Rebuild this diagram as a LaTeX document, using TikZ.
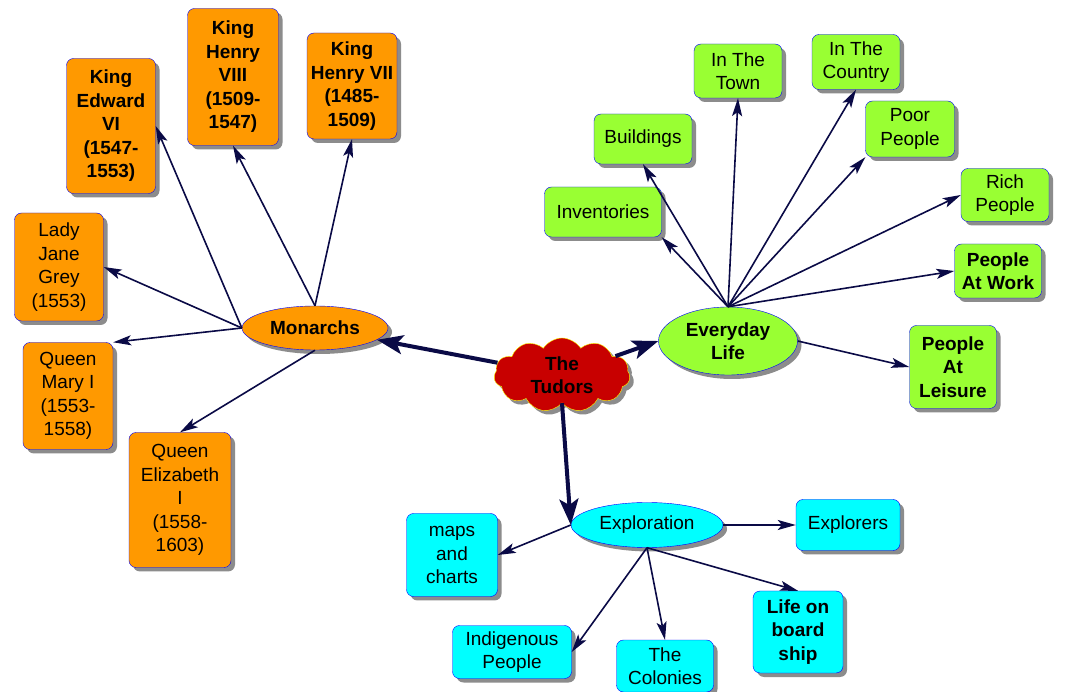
\documentclass[tikz,border=0pt]{standalone}
\usepackage{fontspec}
\setmainfont{Liberation Sans}
\usetikzlibrary{arrows.meta}
\usetikzlibrary{shapes.geometric}
\usetikzlibrary{shapes.symbols}
\usetikzlibrary{shadows}
\usetikzlibrary{positioning}
\definecolor{custom-orange}{RGB}{255, 153, 0}
\definecolor{custom-green}{RGB}{153, 255, 51}
\definecolor{custom-cyan}{RGB}{0, 255, 255}
\definecolor{custom-red}{RGB}{200, 0, 0}
\definecolor{custom-yellow}{RGB}{255, 255, 0}
\definecolor{custom-navy}{RGB}{10, 10, 70}
\definecolor{custom-border}{RGB}{0, 0, 255}
\definecolor{custom-shadow}{RGB}{140, 140, 140}

\tikzset{
  plain/.style={font=\fontsize{19}{23.5}\selectfont},
  strong/.style={font=\fontsize{19}{23.5}\selectfont\bfseries},
  dropshade/.style={drop shadow={shadow xshift=4pt, shadow yshift=-4pt, fill=custom-shadow, opacity=1}},
  topic/.style={draw=custom-border, rounded corners=7pt, align=center, inner sep=1pt, dropshade, plain},
  hub/.style={ellipse, draw=custom-border, align=center, inner sep=0pt, dropshade, strong},
  royal/.style={topic, fill=custom-orange},
  daily/.style={topic, fill=custom-green},
  voyage/.style={topic, fill=custom-cyan},
  tip/.tip={Stealth[length=18pt, width=10pt, inset=4pt]},
  bigtip/.tip={Stealth[length=26pt, width=19pt, inset=6pt]},
  link/.style={draw=custom-navy, line width=1.6pt, -tip},
  biglink/.style={draw=custom-navy, line width=4pt, -bigtip},
}

\begin{document}
\begin{tikzpicture}[x=1pt, y=-1pt]
\useasboundingbox[fill=white] (0,0) rectangle (1072,692);

% centre
\node[cloud, cloud puffs=11, cloud puff arc=115, aspect=1.9, draw=custom-yellow, fill=custom-red,
  minimum width=136pt, minimum height=74pt, align=center, inner sep=0pt, dropshade, strong] (tudors) at (562,375) {The\\Tudors};

% monarchs
\node[hub, fill=custom-orange, minimum width=146pt, minimum height=44pt] (monarchs) at (315,328) {Monarchs};
\node[royal, strong, minimum width=89pt, minimum height=135pt] (edward) at (111,126) {King\\Edward\\VI\\(1547-\\1553)};
\node[royal, strong, minimum width=91pt, minimum height=137pt] (henry8) at (233,77) {King\\Henry\\VIII\\(1509-\\1547)};
\node[royal, strong, minimum width=90pt, minimum height=106pt] (henry7) at (352,86) {King\\Henry VII\\(1485-\\1509)};
\node[royal, minimum width=89pt, minimum height=108pt] (jane) at (59,267) {Lady\\Jane\\Grey\\(1553)};
\node[royal, minimum width=90pt, minimum height=107pt] (mary) at (68,396) {Queen\\Mary I\\(1553-\\1558)};
\node[royal, minimum width=102pt, minimum height=135pt] (elizabeth) at (180,500) {Queen\\Elizabeth\\I\\(1558-\\1603)};

% everyday life
\node[hub, fill=custom-green, minimum width=139pt, minimum height=68pt] (life) at (728,341) {Everyday\\Life};
\node[daily, minimum width=88pt, minimum height=54pt] (town) at (738,71) {In The\\Town};
\node[daily, minimum width=88pt, minimum height=55pt] (country) at (856,62) {In The\\Country};
\node[daily, minimum width=98pt, minimum height=50pt] (buildings) at (643,139) {Buildings};
\node[daily, minimum width=89pt, minimum height=56pt] (poor) at (910,129) {Poor\\People};
\node[daily, minimum width=117pt, minimum height=50pt] (inventories) at (603,212) {Inventories};
\node[daily, minimum width=88pt, minimum height=53pt] (rich) at (1005,195) {Rich\\People};
\node[daily, strong, minimum width=87pt, minimum height=54pt] (work) at (998,271) {People\\At Work};
\node[daily, strong, minimum width=87pt, minimum height=83pt] (leisure) at (953,367) {People\\At\\Leisure};

% exploration
\node[hub, fill=custom-cyan, plain, minimum width=152pt, minimum height=45pt] (exploration) at (647,525) {Exploration};
\node[voyage, minimum width=104pt, minimum height=51pt] (explorers) at (848,525) {Explorers};
\node[voyage, minimum width=91pt, minimum height=83pt] (maps) at (452,555) {maps\\and\\charts};
\node[voyage, minimum width=119pt, minimum height=53pt] (indigenous) at (512,652) {Indigenous\\People};
\node[voyage, minimum width=97pt, minimum height=52pt] (colonies) at (665,666) {The\\Colonies};
\node[voyage, strong, minimum width=90pt, minimum height=82pt] (ship) at (798,632) {Life on\\board\\ship};

% links
\draw[biglink] (tudors) -- (monarchs);
\draw[biglink] (tudors) -- (life.west);
\draw[biglink] (tudors.south) -- (exploration.west);

\draw[link] (monarchs.west) -- (edward.east);
\draw[link] (monarchs.north) -- (henry8.south);
\draw[link] (monarchs.north) -- (henry7.south);
\draw[link] (monarchs.west) -- (jane.east);
\draw[link] (monarchs.west) -- (mary.north east);
\draw[link] (monarchs.south) -- (elizabeth.north);

\draw[link] (life.north) -- (inventories.south east);
\draw[link] (life.north) -- (buildings.south);
\draw[link] (life.north) -- (town.south);
\draw[link] (life.north) -- (country.south);
\draw[link] (life.north) -- (poor.south west);
\draw[link] (life.north) -- (rich.west);
\draw[link] (life.north) -- (work.west);
\draw[link] (life.east) -- (leisure.west);

\draw[link] (exploration.west) -- (maps.east);
\draw[link] (exploration.east) -- (explorers.west);
\draw[link] (exploration.south) -- (indigenous.east);
\draw[link] (exploration.south) -- (colonies.north);
\draw[link] (exploration.south) -- (ship.north);
\end{tikzpicture}
\end{document}
